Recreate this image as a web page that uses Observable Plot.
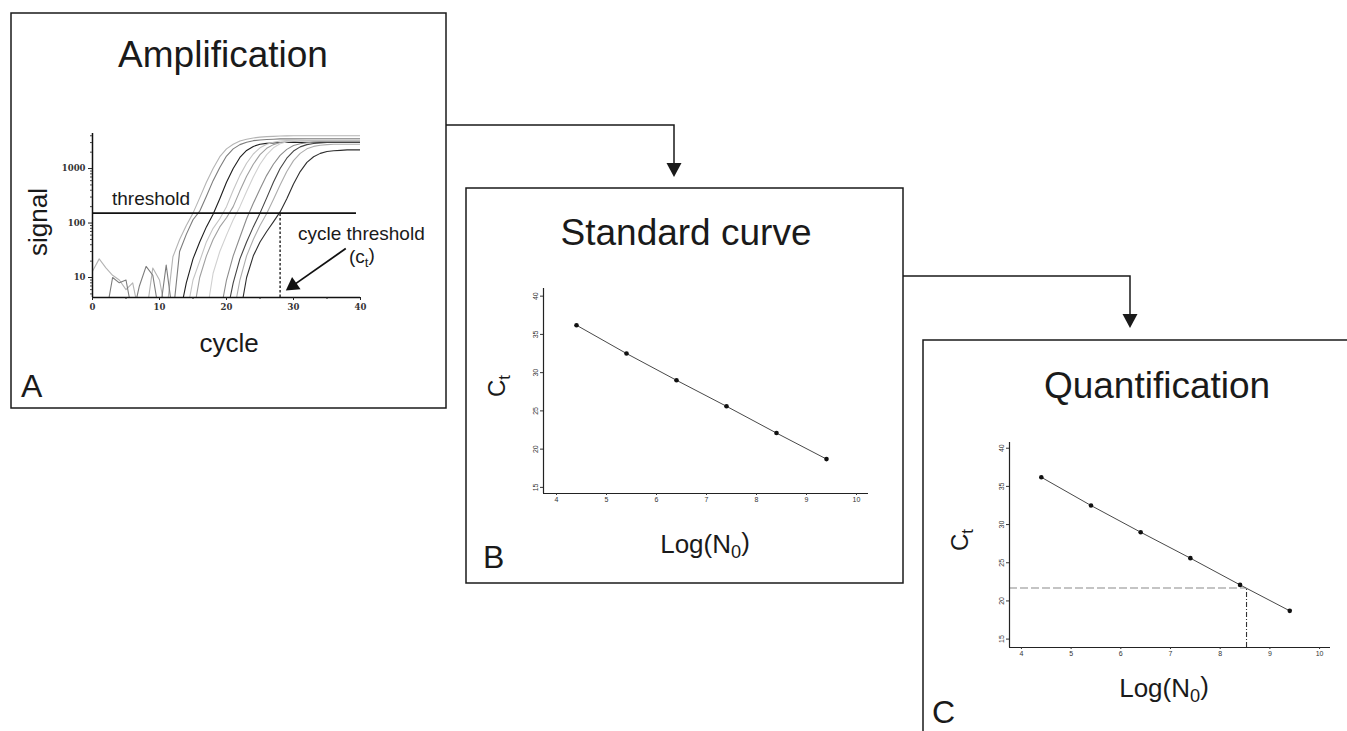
<!DOCTYPE html>
<html><head><meta charset="utf-8">
<script src="https://cdn.jsdelivr.net/npm/d3@7"></script>
<script src="https://cdn.jsdelivr.net/npm/@observablehq/plot@0.6"></script>
<style>
html,body{margin:0;padding:0;background:#fff;}
#page{position:relative;width:1347px;height:731px;overflow:hidden;background:#fff;}
.plot{position:absolute;}
.plot svg{overflow:visible;}
#overlay{position:absolute;left:0;top:0;pointer-events:none;}
</style></head><body><div id="page"></div>
<script>
// ---------------- DATA ----------------
// Panel A: amplification curves (signal per cycle; 2 = below the axis floor)
const cycles = [0,1,2,3,4,5,6,7,8,9,10,11,12,13,14,15,16,17,18,19,20,21,22,23,24,25,26,27,28,29,30,31,32,33,34,35,36,37,38,39,40];
const curveNames = ["s1","s2","s3","s4","s5","s6","s7","s8","s9","s10"];
const curveColors = ["#b4b4b4","#7c7c7c","#1e1e1e","#c4c4c4","#a0a0a0","#d0d0d0","#8c8c8c","#444444","#acacac","#2e2e2e"];
const s1  = [13,22,15,11,9,6,8,2,2,15,9,2,24,50,90,152,290,560,1000,1650,2300,2800,3200,3450,3650,3780,3850,3900,3950,3980,4000,4000,4000,4000,4000,4000,4000,4000,4000,4000,4000];
const s2  = [2,2,2,10,8,9,2,7,16,11,2,17,2,30,62,115,165,310,600,1050,1700,2300,2750,3050,3250,3350,3420,3460,3500,3500,3500,3500,3500,3500,3500,3500,3500,3500,3500,3500,3500];
const s3  = [2,2,2,2,2,2,2,2,2,2,2,2,2,2,8,22,45,85,145,280,560,1000,1600,2150,2550,2800,2900,2950,3000,3000,3000,3000,3000,3000,3000,3000,3000,3000,3000,3000,3000];
const s4  = [2,2,2,2,2,2,2,2,2,2,2,2,2,2,2,9,20,45,80,120,200,400,750,1250,1850,2400,2800,3050,3200,3250,3300,3300,3300,3300,3300,3300,3300,3300,3300,3300,3300];
const s5  = [2,2,2,2,2,2,2,2,2,2,2,2,2,2,2,2,10,25,50,85,125,200,390,720,1200,1800,2350,2750,3000,3100,3150,3200,3200,3200,3200,3200,3200,3200,3200,3200,3200];
const s6  = [2,2,2,2,2,2,2,2,2,2,2,2,2,2,2,2,2,2,12,30,60,115,200,380,700,1200,1800,2400,2850,3100,3250,3350,3400,3400,3400,3400,3400,3400,3400,3400,3400];
const s7  = [2,2,2,2,2,2,2,2,2,2,2,2,2,2,2,2,2,2,2,2,9,25,55,120,230,420,750,1200,1750,2250,2650,2850,2980,3050,3100,3100,3100,3100,3100,3100,3100];
const s8  = [2,2,2,2,2,2,2,2,2,2,2,2,2,2,2,2,2,2,2,2,2,8,22,45,85,152,290,560,1000,1550,2100,2500,2750,2880,2950,3000,3000,3000,3000,3000,3000];
const s9  = [2,2,2,2,2,2,2,2,2,2,2,2,2,2,2,2,2,2,2,2,2,2,9,25,50,90,150,270,500,880,1400,1900,2300,2550,2680,2750,2800,2800,2800,2800,2800];
const s10 = [2,2,2,2,2,2,2,2,2,2,2,2,2,2,2,2,2,2,2,2,2,2,2,10,25,45,70,105,160,280,520,880,1300,1650,1900,2050,2120,2160,2200,2200,2200];
const curveSignals = [s1,s2,s3,s4,s5,s6,s7,s8,s9,s10];
const thresholdSignal = 152;
const thresholdEndCycle = 39.4;
const ctCycle = 28;
const ampXDomain = [0, 40];
const ampYDomain = [4.3, 4400];
const ampXTicks = [0,10,20,30,40];
const ampXMinor = [5,15,25,35];
const ampYTicks = [10,100,1000];
const ampYMinor = [5,6,7,8,9,20,30,40,50,60,70,80,90,200,300,400,500,600,700,800,900,2000,3000,4000];
const ctArrow = [{x1: 37.8, y1: 34, x2: 29.9, y2: 7.1}];

// Panels B and C: standard curve
const logN0 = [4.4, 5.4, 6.4, 7.4, 8.4, 9.4];
const ctValues = [36.2, 32.5, 29.0, 25.6, 22.1, 18.7];
const stdXTicks = [4,5,6,7,8,9,10];
const stdYTicks = [15,20,25,30,35,40];
const unknownCt = 21.7;
const unknownLogN0 = 8.53;

// ---------------- BUILD ----------------
const page = document.getElementById("page");
const ampRows = [];
curveNames.forEach((name, i) => cycles.forEach((c, j) => ampRows.push({curve: name, cycle: c, signal: curveSignals[i][j]})));

function place(el, left, top) {
  const d = document.createElement("div");
  d.className = "plot";
  d.style.left = left + "px"; d.style.top = top + "px";
  d.appendChild(el);
  page.appendChild(d);
}

const ampPlot = Plot.plot({
  width: 330, height: 200,
  marginLeft: 42, marginRight: 20, marginTop: 13, marginBottom: 23,
  x: {domain: ampXDomain, label: null},
  y: {type: "log", domain: ampYDomain, label: null},
  color: {domain: curveNames, range: curveColors},
  style: {fontFamily: "'DejaVu Serif', serif", fontSize: "8.5px", fontWeight: "bold", color: "#333", background: "transparent"},
  marks: [
    Plot.line(ampRows, {x: "cycle", y: "signal", z: "curve", stroke: "curve", strokeWidth: 1.1, clip: true}),
    Plot.ruleY([thresholdSignal], {x1: ampXDomain[0], x2: thresholdEndCycle, stroke: "#111", strokeWidth: 1.6}),
    Plot.ruleX([ctCycle], {y1: ampYDomain[0], y2: thresholdSignal, stroke: "#222", strokeWidth: 1.4, strokeDasharray: "2.5,2"}),
    Plot.ruleX([ampXDomain[0]], {stroke: "#111", strokeWidth: 1.5}),
    Plot.ruleY([ampYDomain[0]], {stroke: "#111", strokeWidth: 1.5}),
    Plot.axisX({ticks: ampXTicks, tickSize: 3, tickPadding: 3, tickFormat: d => String(d), stroke: "#222", label: null}),
    Plot.axisX({ticks: ampXMinor, tickSize: 2, tickFormat: () => "", stroke: "#222", label: null}),
    Plot.axisY({ticks: ampYTicks, tickSize: 4, tickPadding: 3, tickFormat: d => String(d), stroke: "#222", label: null}),
    Plot.axisY({ticks: ampYMinor, tickSize: 2, tickFormat: () => "", stroke: "#444", label: null}),
    Plot.link(ctArrow, {x1: "x1", y1: "y1", x2: "x2", y2: "y2", stroke: "#111", strokeWidth: 1.8}),
    Plot.dot(ctArrow, {x: "x2", y: "y2", symbol: "triangle", r: 5.5, fill: "#111", stroke: "none", rotate: -125})
  ]
});
place(ampPlot, 50, 120);

function stdPlot({width, height, mL, mR, mT, mB, xDom, yDom, quant}) {
  const pts = logN0.map((x, i) => ({x, y: ctValues[i]}));
  const marks = [];
  if (quant) {
    marks.push(Plot.ruleY([unknownCt], {x1: xDom[0], x2: unknownLogN0, stroke: "#8a8a8a", strokeWidth: 1.1, strokeDasharray: "8,3"}));
    marks.push(Plot.ruleX([unknownLogN0], {y1: yDom[0], y2: unknownCt, stroke: "#333", strokeWidth: 1.1, strokeDasharray: "5,2,1,2"}));
  }
  marks.push(
    Plot.ruleY([yDom[0]], {stroke: "#222", strokeWidth: 1.2}),
    Plot.ruleX([xDom[0]], {stroke: "#222", strokeWidth: 1.2}),
    Plot.axisX({ticks: stdXTicks, tickSize: 2, tickPadding: 2, tickFormat: d => String(d), stroke: "#333", label: null}),
    Plot.axisY({ticks: stdYTicks, tickSize: 3, tickPadding: 3, tickRotate: -90, tickFormat: d => String(d), stroke: "#333", label: null}),
    Plot.line(pts, {x: "x", y: "y", stroke: "#333", strokeWidth: 0.9}),
    Plot.dot(pts, {x: "x", y: "y", r: 2.3, fill: "#111", stroke: "none"})
  );
  return Plot.plot({
    width, height, marginLeft: mL, marginRight: mR, marginTop: mT, marginBottom: mB,
    x: {domain: xDom, label: null}, y: {domain: yDom, label: null},
    style: {fontFamily: "'Liberation Sans', Arial, sans-serif", fontSize: "7px", color: "#333", background: "transparent"},
    marks
  });
}
place(stdPlot({width: 400, height: 240, mL: 63, mR: 12, mT: 13, mB: 22, xDom: [3.74, 10.24], yDom: [14.2, 41], quant: false}), 480, 275);
place(stdPlot({width: 390, height: 240, mL: 59, mR: 10, mT: 12, mB: 23, xDom: [3.76, 10.22], yDom: [13.9, 40.75], quant: true}), 950, 430);

// ---------------- FRAMES, ARROWS, TEXT ----------------
const svg = d3.select(page).append("svg").attr("id", "overlay").attr("width", 1347).attr("height", 731)
  .style("font-family", "'Liberation Sans', Arial, sans-serif");
const ink = "#1a1a1a";
svg.append("rect").attr("x", 11).attr("y", 13).attr("width", 435).attr("height", 395).attr("fill", "none").attr("stroke", ink).attr("stroke-width", 1.5);
svg.append("rect").attr("x", 466).attr("y", 188).attr("width", 437).attr("height", 395).attr("fill", "none").attr("stroke", ink).attr("stroke-width", 1.5);
svg.append("path").attr("d", "M923,731 V340 H1347").attr("fill", "none").attr("stroke", ink).attr("stroke-width", 1.5);
svg.append("path").attr("d", "M446,125 H674 V165").attr("fill", "none").attr("stroke", ink).attr("stroke-width", 1.5);
svg.append("path").attr("d", "M666.5,163 L681.5,163 L674,177 Z").attr("fill", ink);
svg.append("path").attr("d", "M903,276 H1130 V316").attr("fill", "none").attr("stroke", ink).attr("stroke-width", 1.5);
svg.append("path").attr("d", "M1122.5,314 L1137.5,314 L1130,328 Z").attr("fill", ink);

function txt(x, y, size, s, anchor = "start") {
  return svg.append("text").attr("x", x).attr("y", y).attr("font-size", size).attr("fill", ink).attr("text-anchor", anchor).text(s);
}
function sub(t, base, subs, after) {
  t.text(base);
  t.append("tspan").attr("dy", "0.3em").attr("font-size", "70%").text(subs);
  if (after) t.append("tspan").attr("dy", "-0.3em").text(after);
  return t;
}
txt(223, 67, 37, "Amplification", "middle");
txt(686, 245, 37, "Standard curve", "middle");
txt(1157, 398, 37, "Quantification", "middle");

txt(21, 397, 32, "A");
txt(483, 568, 32, "B");
txt(932, 723, 32, "C");

svg.append("text").attr("transform", "translate(47,222) rotate(-90)").attr("font-size", 26).attr("fill", ink).attr("text-anchor", "middle").text("signal");
txt(229, 352, 26, "cycle", "middle");
txt(112, 205, 19, "threshold");
txt(298, 240, 19, "cycle threshold");
sub(txt(349, 263, 19, ""), "(c", "t", ")");

sub(svg.append("text").attr("transform", "translate(505,386) rotate(-90)").attr("font-size", 24).attr("fill", ink).attr("text-anchor", "middle"), "C", "t");
sub(svg.append("text").attr("transform", "translate(968,540) rotate(-90)").attr("font-size", 24).attr("fill", ink).attr("text-anchor", "middle"), "C", "t");
sub(txt(705, 553, 26, "", "middle"), "Log(N", "0", ")");
sub(txt(1164, 697, 26, "", "middle"), "Log(N", "0", ")");
</script>
</body></html>
